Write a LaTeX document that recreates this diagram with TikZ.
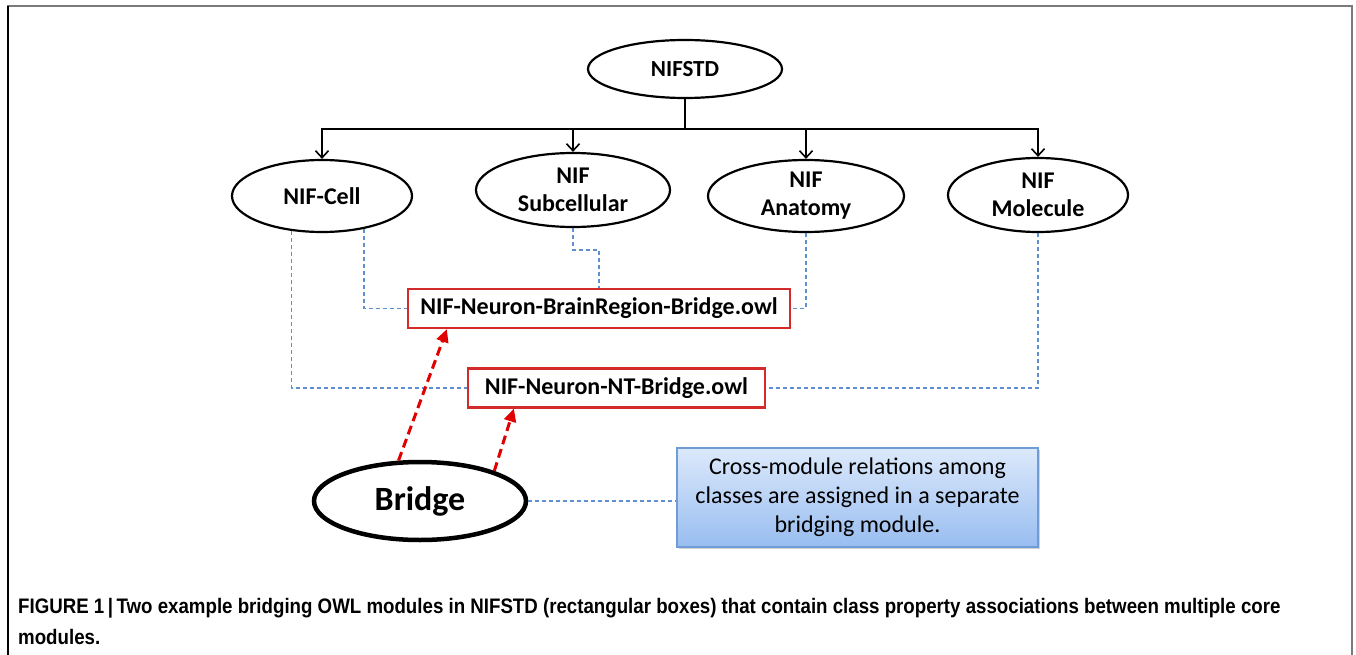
\documentclass[tikz,border=0pt]{standalone}
\usepackage{fontspec}
\setmainfont{Carlito}
\newfontfamily\capfont[FakeStretch=0.89]{Liberation Sans}
\usetikzlibrary{shapes.geometric,arrows.meta,shadows,calc}
\definecolor{boxred}{HTML}{D42A2A}
\definecolor{dashblue}{HTML}{5E8FD0}
\definecolor{arrred}{HTML}{E00000}
\definecolor{topblue}{HTML}{DCE9FB}
\definecolor{botblue}{HTML}{98BDF0}
\definecolor{edgeblue}{HTML}{6F9CD6}
\definecolor{framegrey}{HTML}{7A7A7A}
\begin{document}
\begin{tikzpicture}[x=1pt,y=-1pt,
  ell/.style={ellipse, draw, line width=2.2pt, fill=white, inner sep=0pt,
    align=center, font=\bfseries\fontsize{24}{28}\selectfont},
  owlbox/.style={rectangle, draw=boxred, line width=2.2pt, fill=white,
    minimum height=39pt, inner sep=0pt, font=\bfseries\fontsize{24}{26}\selectfont},
  tree/.style={line width=1.6pt},
  treearr/.style={line width=1.6pt, -{Straight Barb[length=7pt,width=13pt,line width=1.6pt]}},
  bdash/.style={dashblue, line width=1.3pt, dash pattern=on 4pt off 3pt},
  rdash/.style={arrred, line width=3pt, dash pattern=on 9pt off 5pt,
    -{Triangle[length=13pt,width=12pt]}},
  note/.style={rectangle, draw=edgeblue, line width=1.2pt, top color=topblue,
    bottom color=botblue, drop shadow={opacity=0.35, shadow xshift=2pt, shadow yshift=-2pt},
    minimum width=361pt, minimum height=99pt, inner sep=0pt, align=center,
    font=\fontsize{24}{29}\selectfont}
]
\useasboundingbox (0,0) rectangle (1356,655);
% frame
\draw[framegrey, line width=2pt] (8,660) -- (8,6) -- (1352,6) -- (1352,660);
\draw[black, line width=2pt] (8,6) -- (8,660);

% nodes
\node[ell, minimum width=194pt, minimum height=58pt, font=\bfseries\fontsize{23}{26}\selectfont] (top) at (685,69) {NIFSTD};
\node[ell, minimum width=180pt, minimum height=72pt] (cell) at (322,196) {NIF-Cell};
\node[ell, minimum width=194pt, minimum height=74pt] (sub) at (573,190) {NIF\\Subcellular};
\node[ell, minimum width=196pt, minimum height=72pt] (ana) at (806,196) {NIF\\Anatomy};
\node[ell, minimum width=180pt, minimum height=74pt] (mol) at (1038,195) {NIF\\Molecule};

\node[owlbox, minimum width=382pt] (br) at (599,308.5) {NIF-Neuron-BrainRegion-Bridge.owl};
\node[owlbox, minimum width=297pt] (nt) at (616.5,388) {NIF-Neuron-NT-Bridge.owl};

\node[ell, line width=4.5pt, minimum width=212pt, minimum height=78pt,
  font=\bfseries\fontsize{34}{36}\selectfont] (bridge) at (420,501) {Bridge};

\node[note] (note) at (857.5,497.5) {Cross-module relations among\\classes are assigned in a separate\\bridging module.};

% tree connectors
\coordinate (bar) at (685,129);
\draw[tree] (top.south) -- (bar);
\draw[treearr] (bar) -| (cell.north);
\draw[treearr] (bar) -| (sub.north);
\draw[treearr] (bar) -| (ana.north);
\draw[treearr] (bar) -| (mol.north);

% blue dashed connectors
\draw[bdash] (cell.-38) |- (br.west);
\draw[bdash] (cell.-131) |- (nt.west);
\draw[bdash] (sub.south) -- ++(0,22) -| (br.north);
\draw[bdash] (ana.south) |- (br.east);
\draw[bdash] (mol.south) |- (nt.east);
\draw[bdash] (bridge.east) -- (bridge.east -| note.west);

% red dashed arrows
\draw[rdash] (bridge.118) -- ($(br.south west)+(40,0)$);
\draw[rdash] (bridge.22) -- ($(nt.south west)+(47,0)$);

% caption
\node[anchor=west, inner sep=0pt, font=\capfont\bfseries\fontsize{21}{24}\selectfont] (cap1) at (18,608)
  {FIGURE 1\,|\,Two example bridging OWL modules in NIFSTD (rectangular boxes) that contain class property associations between multiple core};
\node[anchor=west, inner sep=0pt, font=\capfont\bfseries\fontsize{21}{24}\selectfont] (cap2) at (18,637) {modules.};
\end{tikzpicture}
\end{document}
